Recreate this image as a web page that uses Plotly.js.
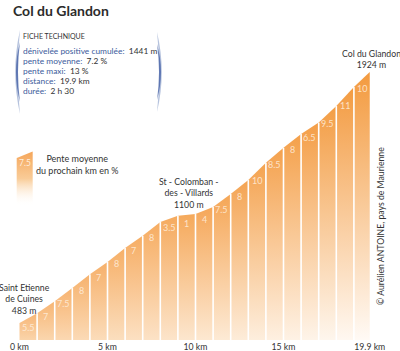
<!DOCTYPE html>
<html><head><meta charset="utf-8">
<script src="https://cdn.plot.ly/plotly-3.0.1.min.js"></script>
<style>body{margin:0;background:#fff}#c{width:400px;height:351px}</style>
</head><body><div id="c"></div>
<script>
// ---- data ----
const KM = [0,1,2,3,4,5,6,7,8,9,10,11,12,13,14,15,16,17,18,19,19.9];
const ELEV = [483,538,608,683,763,833,913,983,1063,1098,1108,1148,1223,1303,1403,1488,1568,1633,1728,1838,1924];
const GRADE = [5.5,7,7.5,8,7,8,7,8,3.5,1,4,7.5,8,10,8.5,8,6.5,9.5,11,10];
const TICK_VALS = [0,5,10,15,19.9];
const TICK_TEXT = ['0 km','5 km','10 km','15 km','19.9 km'];
const PLACES = [
  {name:'Saint Etienne<br>de Cuines', alt:'483 m', km:0},
  {name:'St - Colomban -<br>des - Villards', alt:'1100 m', km:10},
  {name:'Col du Glandon', alt:'1924 m', km:19.9}
];
const FICHE_LABELS = ['dénivelée positive cumulée:','pente moyenne:','pente maxi:','distance:','durée:'];
const FICHE_VALUES = ['1441 m','7.2 %','13 %','19.9 km','2 h 30'];

// ---- layout geometry (pixels) ----
const W=400, H=351, PH=340;
const X0PX=19.5, PXKM=17.6, BASE_M=385, PXM=0.1742;
const XR=[-X0PX/PXKM,(W-X0PX)/PXKM];
const YR=[BASE_M, BASE_M+PH/PXM];
const fx=p=>p/W, fy=p=>1-p/PH;
const dx=p=>XR[0]+p/PXKM, dy=p=>BASE_M+(PH-p)/PXM;
const FONT='Lato, "Open Sans", sans-serif';

function hex2rgb(h){return [1,3,5].map(i=>parseInt(h.substr(i,2),16));}
function mix(a,b,t){const A=hex2rgb(a),B=hex2rgb(b);return 'rgb('+A.map((v,i)=>Math.round(v+(B[i]-v)*t)).join(',')+')';}

const traces=[];
const n=GRADE.length;
for(let i=0;i<n;i++){
  const t=i/(n-1);
  const top=mix('#f7b676','#f39a3e',t);
  const bot=mix('#fad4aa','#fffaf5',t);
  traces.push({type:'scatter',mode:'lines',x:[KM[i],KM[i],KM[i+1],KM[i+1]],y:[YR[0],ELEV[i],ELEV[i+1],YR[0]],
    fill:'toself',line:{width:0},fillcolor:top,
    fillgradient:{type:'vertical',start:YR[0],stop:ELEV[i+1],colorscale:[[0,bot],[1,top]]},
    hoverinfo:'skip',showlegend:false});
}
// white separators
const sx=[],sy=[];
for(let i=1;i<KM.length-1;i++){sx.push(KM[i],KM[i],null);sy.push(YR[0],ELEV[i],null);}
traces.push({type:'scatter',mode:'lines',x:sx,y:sy,line:{color:'#ffffff',width:1.6},hoverinfo:'skip',showlegend:false});
// legend swatch
traces.push({type:'scatter',mode:'lines',x:[dx(16.7),dx(16.7),dx(32.7),dx(32.7)],y:[dy(206),dy(158),dy(151.5),dy(206)],
  fill:'toself',line:{width:0},fillcolor:'#f5a65a',
  fillgradient:{type:'vertical',start:dy(206),stop:dy(151.5),colorscale:[[0,'rgba(255,255,255,0)'],[0.5,'#f9cc98'],[1,'#f5a65a']]},
  hoverinfo:'skip',showlegend:false});

const ann=[];
const lab=(text,x,y,o)=>ann.push(Object.assign({text,x:fx(x),y:fy(y),xref:'paper',yref:'paper',showarrow:false,borderpad:0,
  xanchor:'center',yanchor:'middle',font:{family:FONT,size:8.7,color:'#333'}},o||{}));
// grade labels in bars
for(let i=0;i<n;i++){
  ann.push({text:String(GRADE[i]),x:(KM[i]+KM[i+1])/2,y:(ELEV[i]+ELEV[i+1])/2,xref:'x',yref:'y',yshift:-9,borderpad:0,
    showarrow:false,xanchor:'center',yanchor:'middle',font:{family:FONT,size:9,color:'rgba(255,243,228,0.8)'}});
}
// title
lab('<b>Col du Glandon</b>',12,11,{xanchor:'left',font:{family:FONT,size:14,color:'#2b2b2b'}});
// fiche technique
lab('FICHE TECHNIQUE',22,36,{xanchor:'left',font:{family:FONT,size:7,color:'#333'}});
const FY=[51,61,71,81,91];
FICHE_LABELS.forEach((l,i)=>lab('<span style="color:#3b5b9b">'+l+'</span>\u00a0\u00a0'+FICHE_VALUES[i],22,FY[i],{xanchor:'left',font:{family:FONT,size:8.4,color:'#333'}}));
// places
lab(PLACES[0].name+'<br>'+PLACES[0].alt,24.5,299);
lab(PLACES[1].name+'<br>'+PLACES[1].alt,188.7,193);
lab(PLACES[2].name+'<br>'+PLACES[2].alt,371,58.5);
// legend text
lab('7.5',24.5,163,{font:{family:FONT,size:8.5,color:'rgba(255,246,234,0.9)'}});
lab('Pente moyenne<br>du prochain km en %',77,164.5,{font:{family:FONT,size:9,color:'#333'}});
// copyright
lab('© Aurélien ANTOINE, pays de Maurienne',380,226,{textangle:-90,font:{family:FONT,size:8.7,color:'#333'}});

function crescent(x0,y0,x1,y1,bx,ix){
  const my=(y0+y1)/2;
  return `M${fx(x0)},${fy(y0)} Q${fx(bx)},${fy(my)} ${fx(x1)},${fy(y1)} Q${fx(ix)},${fy(my)} ${fx(x0)},${fy(y0)} Z`;
}
const shapes=[
  {type:'path',xref:'paper',yref:'paper',path:crescent(20,30,20,114,10.5,15.5),fillcolor:'rgba(90,120,180,0.45)',line:{width:0}},
  {type:'path',xref:'paper',yref:'paper',path:crescent(20,42,20,102,12,16),fillcolor:'rgba(55,85,160,0.7)',line:{width:0}},
  {type:'path',xref:'paper',yref:'paper',path:crescent(157,32,157,112,166.5,161.5),fillcolor:'rgba(90,120,180,0.45)',line:{width:0}},
  {type:'path',xref:'paper',yref:'paper',path:crescent(157,44,157,100,165,161),fillcolor:'rgba(55,85,160,0.7)',line:{width:0}}
];

const layout={width:W,height:H,margin:{l:0,r:0,t:0,b:H-PH,pad:0},paper_bgcolor:'#fff',plot_bgcolor:'#fff',
  xaxis:{range:XR,showgrid:false,zeroline:false,showline:false,ticks:'',tickvals:TICK_VALS,ticktext:TICK_TEXT,
    tickfont:{family:FONT,size:8.7,color:'#333'},fixedrange:true},
  yaxis:{range:YR,showgrid:false,zeroline:false,showline:false,showticklabels:false,ticks:'',fixedrange:true},
  annotations:ann,shapes:shapes,showlegend:false,hovermode:false};
Plotly.newPlot('c',traces,layout,{displayModeBar:false,staticPlot:true});
</script></body></html>
